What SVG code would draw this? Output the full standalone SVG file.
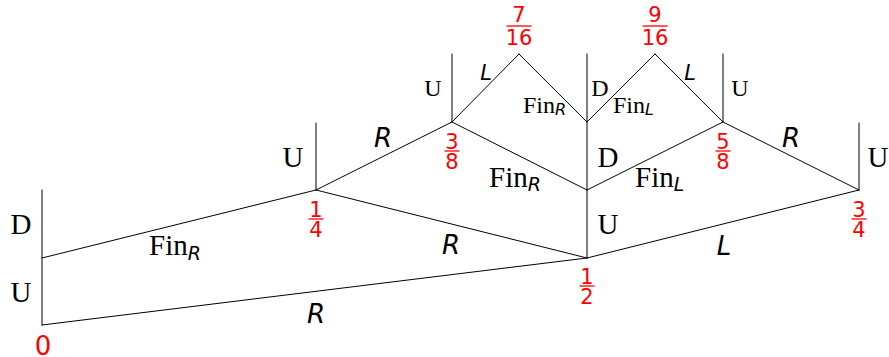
<svg xmlns="http://www.w3.org/2000/svg" width="889" height="357" viewBox="0 0 889 357">
<style>
.e{stroke:#000;stroke-width:1;fill:none;stroke-linecap:round}
.s{font-family:"Liberation Serif","DejaVu Serif",serif;fill:#000}
.b{font-size:29px}
.m{font-size:24px}
.i{font-family:"DejaVu Sans",sans-serif;font-style:italic;fill:#000}
.ib{font-size:26px}
.im{font-size:21px}
.sb{font-size:19px}
.sm{font-size:16px}
.f{font-family:"DejaVu Sans",sans-serif;font-size:21px;fill:#ff0000;text-anchor:middle}
.bar{stroke:#ff0000;stroke-width:1.3}
.c{text-anchor:middle}
</style>
<rect width="889" height="357" fill="#fff"/>
<g id="connectors">
<line class="e" x1="42" y1="190" x2="42" y2="325"/>
<line class="e" x1="316" y1="123" x2="316" y2="190"/>
<line class="e" x1="452" y1="54" x2="452" y2="122"/>
<line class="e" x1="587" y1="54" x2="587" y2="258"/>
<line class="e" x1="723" y1="54" x2="723" y2="122"/>
<line class="e" x1="859" y1="123" x2="859" y2="190"/>
<line class="e" x1="42" y1="325" x2="587" y2="258"/>
<line class="e" x1="42" y1="258" x2="316" y2="190"/>
<line class="e" x1="316" y1="190" x2="587" y2="258"/>
<line class="e" x1="316" y1="190" x2="452" y2="122"/>
<line class="e" x1="587" y1="258" x2="859" y2="190"/>
<line class="e" x1="723" y1="122" x2="859" y2="190"/>
<line class="e" x1="452" y1="122" x2="587" y2="190"/>
<line class="e" x1="587" y1="190" x2="723" y2="122"/>
<line class="e" x1="452" y1="122" x2="519" y2="54"/>
<line class="e" x1="519" y1="54" x2="587" y2="122"/>
<line class="e" x1="587" y1="122" x2="655" y2="54"/>
<line class="e" x1="655" y1="54" x2="723" y2="122"/>
<!-- vertical labels -->
<text class="s b c" x="21" y="234">D</text>
<text class="s b c" x="21" y="302">U</text>
<text class="s b c" x="293" y="167">U</text>
<text class="s m c" x="433" y="96">U</text>
<text class="s m c" x="600" y="96">D</text>
<text class="s m c" x="740" y="96">U</text>
<text class="s b c" x="608" y="167">D</text>
<text class="s b c" x="608" y="234">U</text>
<text class="s b c" x="878" y="167">U</text>
<!-- edge labels -->
<text class="s b" x="149" y="255">Fin<tspan class="i sb" dy="5">R</tspan></text>
<text class="i ib c" x="316" y="323">R</text>
<text class="i ib c" x="451" y="254">R</text>
<text class="i ib c" x="383" y="147">R</text>
<text class="i ib c" x="724" y="255">L</text>
<text class="i ib c" x="791" y="147">R</text>
<text class="i im c" x="486" y="80">L</text>
<text class="i im c" x="690" y="80">L</text>
<text class="s m" x="523" y="113">Fin<tspan class="i sm" dy="2">R</tspan></text>
<text class="s m" x="613" y="113">Fin<tspan class="i sm" dy="2">L</tspan></text>
<text class="s b" x="489" y="187">Fin<tspan class="i sb" dy="4">R</tspan></text>
<text class="s b" x="635" y="187">Fin<tspan class="i sb" dy="4">L</tspan></text>
</g>
<g id="n0"><text x="43" y="355" style="font-family:'DejaVu Sans',sans-serif;font-size:26px;fill:#ff0000;text-anchor:middle">0</text></g>
<g id="n1_4"><text class="f" x="316" y="216.5">1</text><line class="bar" x1="308.5" y1="219" x2="323.5" y2="219"/><text class="f" x="316" y="237">4</text></g>
<g id="n1_2"><text class="f" x="587" y="283.5">1</text><line class="bar" x1="579.5" y1="286" x2="594.5" y2="286"/><text class="f" x="587" y="304">2</text></g>
<g id="n3_4"><text class="f" x="859" y="216.5">3</text><line class="bar" x1="851.5" y1="219" x2="866.5" y2="219"/><text class="f" x="859" y="237">4</text></g>
<g id="n3_8"><text class="f" x="452" y="148.5">3</text><line class="bar" x1="444.5" y1="151" x2="459.5" y2="151"/><text class="f" x="452" y="169">8</text></g>
<g id="n5_8"><text class="f" x="723" y="148.5">5</text><line class="bar" x1="715.5" y1="151" x2="730.5" y2="151"/><text class="f" x="723" y="169">8</text></g>
<g id="n7_16"><text class="f" x="519" y="22">7</text><line class="bar" x1="506.5" y1="26" x2="531.5" y2="26"/><text class="f" x="519" y="45">16</text></g>
<g id="n9_16"><text class="f" x="655" y="22">9</text><line class="bar" x1="642.5" y1="26" x2="667.5" y2="26"/><text class="f" x="655" y="45">16</text></g>
</svg>
